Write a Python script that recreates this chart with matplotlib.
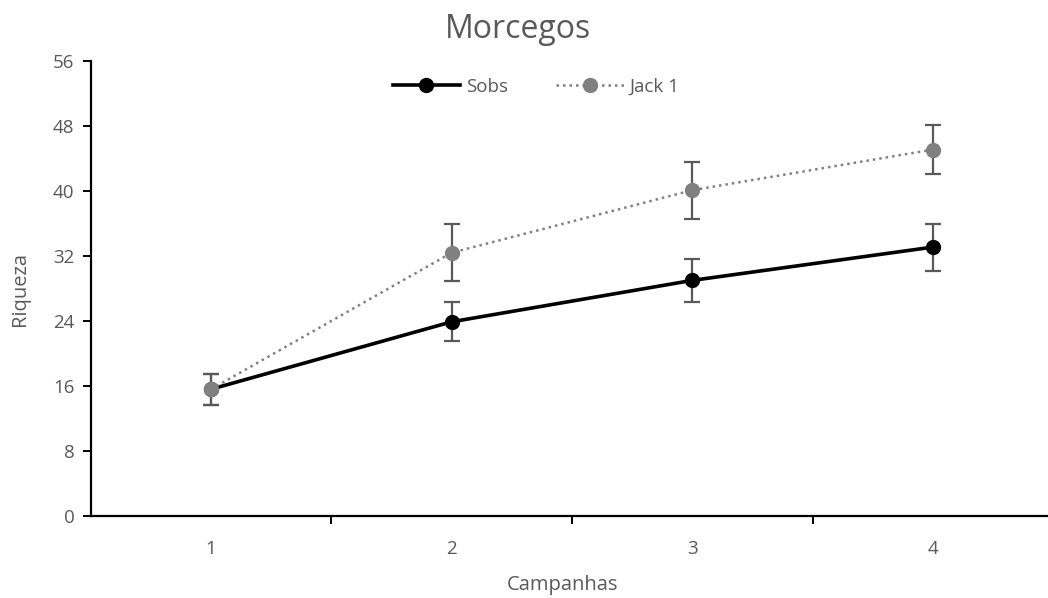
import numpy as np
import matplotlib.pyplot as plt

plt.rcParams['font.family'] = ['Open Sans', 'DejaVu Sans']

campanhas = [1, 2, 3, 4]
sobs = [15.6, 23.9, 29.0, 33.1]
sobs_err = [1.9, 2.4, 2.6, 2.9]
jack1 = [15.6, 32.4, 40.1, 45.1]
jack1_err = [1.9, 3.5, 3.5, 3.0]
y_ticks = [0, 8, 16, 24, 32, 40, 48, 56]

grey_txt = '#595959'

fig = plt.figure(figsize=(10.48, 5.98), dpi=100)
ax = fig.add_axes([91 / 1048, 82 / 598, (1048 - 91) / 1048, 455 / 598])

# Sobs
ax.errorbar(campanhas, sobs, yerr=sobs_err, color='black', lw=2.6,
            marker='o', markersize=10, ecolor=grey_txt, elinewidth=1.6,
            capsize=6, capthick=1.6, label='Sobs', zorder=3)
# Jack 1
ax.errorbar(campanhas, jack1, yerr=jack1_err, color='#808080', lw=1.8,
            ls=(0, (1, 1.6)), marker='o', markersize=10, ecolor=grey_txt,
            elinewidth=1.6, capsize=6, capthick=1.6, label='Jack 1', zorder=4)

ax.set_ylim(0, 56)
ax.set_xlim(1 - 120 / 241, 4 + (1048 - 933) / 241)
ax.set_yticks(y_ticks)
ax.set_xticks(campanhas)
ax.set_xticks([1.5, 2.5, 3.5], minor=True)
ax.tick_params(axis='x', which='major', length=0, pad=17, labelsize=13.5, labelcolor=grey_txt)
ax.tick_params(axis='x', which='minor', length=6, width=1.4, direction='out')
ax.tick_params(axis='y', length=6, width=1.4, direction='out', pad=6, labelsize=13.5, labelcolor=grey_txt)

for s in ['top', 'right']:
    ax.spines[s].set_visible(False)
for s in ['left', 'bottom']:
    ax.spines[s].set_linewidth(1.6)

ax.set_ylabel('Riqueza', fontsize=14.5, color=grey_txt)
ax.yaxis.set_label_coords(-61 / 957, 0.5)
ax.set_xlabel('Campanhas', fontsize=14.5, color=grey_txt)
ax.xaxis.set_label_coords((563 - 91) / 957, -59 / 455)

fig.text(518 / 1048, 1 - 29 / 598, 'Morcegos', ha='center', va='center',
         fontsize=23, color=grey_txt)

handles, labels = ax.get_legend_handles_labels()
handles = [h[0] for h in handles]
ax.legend(handles, labels, loc='center', bbox_to_anchor=(536 / 1048, 1 - 87 / 598),
          bbox_transform=fig.transFigure, ncol=2, frameon=False, fontsize=13.5,
          labelcolor=grey_txt, handlelength=3.6, columnspacing=2.6, handletextpad=0.3)

fig.savefig('out.png', dpi=100)
